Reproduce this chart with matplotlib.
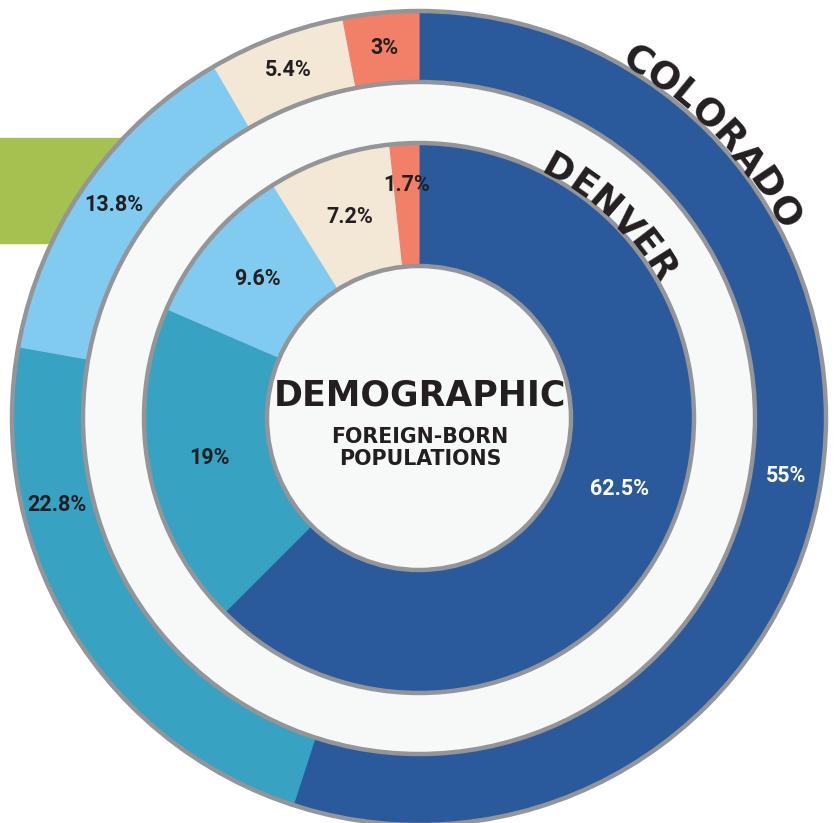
import numpy as np
import matplotlib.pyplot as plt
from matplotlib.patches import Circle, Rectangle

# Datos
colorado = [55, 22.8, 13.8, 5.4, 3]
denver = [62.5, 19, 9.6, 7.2, 1.7]
colores = ['#2a5a9c', '#37a2c1', '#82cbf0', '#f3e8d6', '#f27f68']
color_txt = ['white', '#231f20', '#231f20', '#231f20', '#231f20']

titulo = "DEMOGRAPHIC"
subtitulo = "FOREIGN-BORN\nPOPULATIONS"

# Geometria (pixeles)
W, H = 835, 823
CX, CY = 419, H - 418
R_EXT, R_EXT_IN = 407, 336
R_INT, R_CEN = 275, 152
GRIS = '#939598'
FONDO = '#f7f9f9'
OSCURO = '#231f20'

fig = plt.figure(figsize=(W / 100, H / 100), dpi=100)
ax = fig.add_axes([0, 0, 1, 1])

# rectangulo verde detras del grafico
ax.add_patch(Rectangle((0, H - 243), 200, 105, color='#a5c250', zorder=0))
ax.add_patch(Circle((CX, CY), R_EXT_IN, color=FONDO, zorder=1))

anillos = [(colorado, R_EXT, R_EXT - R_EXT_IN), (denver, R_INT, R_INT - R_CEN)]
for valores, radio, ancho in anillos:
    wedges, _ = ax.pie(valores, radius=radio, center=(CX, CY), startangle=90,
                       counterclock=False, colors=colores,
                       wedgeprops=dict(width=ancho, linewidth=0.8))
    for w in wedges:
        w.set_edgecolor(w.get_facecolor())
        w.set_zorder(2)

for r in [R_EXT, R_EXT_IN, R_INT, R_CEN]:
    ax.add_patch(Circle((CX, CY), r, fill=False, ec=GRIS, lw=3.2, zorder=3))

# etiquetas de porcentaje
ajuste = {(0, 1): 17.5, (1, 0): -3, }
radio_lab = {0: 372, 1: 213}
for k, valores in enumerate([colorado, denver]):
    acum = np.cumsum([0] + valores)
    for i, v in enumerate(valores):
        ang = (acum[i] + v / 2) / 100 * 360 + ajuste.get((k, i), 0)
        r = radio_lab[k]
        if k == 1 and i == 4:
            r = 233
        t = np.radians(ang)
        txt = f"{v:g}%"
        ax.text(CX + r * np.sin(t), CY + r * np.cos(t), txt, ha='center', va='center',
                fontsize=15.5, fontweight='bold', family='Roboto', color=color_txt[i], zorder=5)

# texto central
ax.text(CX + 1, H - 395, titulo, ha='center', va='center', fontsize=25,
        fontweight='bold', family='DejaVu Sans', color=OSCURO, zorder=5)
ax.text(CX + 1, H - 448, subtitulo, ha='center', va='center', fontsize=14.8,
        fontweight='bold', family='DejaVu Sans', color=OSCURO, linespacing=1.15, zorder=5)

# texto curvo
renderer = fig.canvas.get_renderer()


def texto_arco(s, r, medio, fs, extra=0.0):
    anchos = []
    for ch in s:
        t = ax.text(0, 0, ch, fontsize=fs, fontweight='bold', family='DejaVu Sans')
        anchos.append(t.get_window_extent(renderer).width)
        t.remove()
    total = sum(anchos) + extra * (len(s) - 1)
    pos = np.radians(medio) - total / r / 2
    acum = 0
    for ch, w in zip(s, anchos):
        th = pos + (acum + w / 2) / r
        ax.text(CX + r * np.sin(th), CY + r * np.cos(th), ch, fontsize=fs,
                fontweight='bold', family='DejaVu Sans', color=OSCURO,
                rotation=-np.degrees(th), rotation_mode='anchor',
                ha='center', va='baseline', zorder=6)
        acum += w + extra


texto_arco("COLORADO", 407, 46.1, 27)
texto_arco("DENVER", 274, 43.5, 26)

ax.set_xlim(0, W)
ax.set_ylim(0, H)
ax.set_aspect('equal')
ax.axis('off')

plt.savefig("out.png", dpi=100, facecolor='white')
